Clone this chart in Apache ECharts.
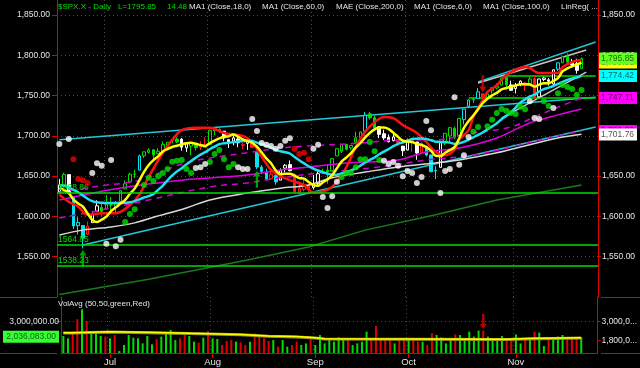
<!DOCTYPE html>
<html>
<head>
<meta charset="utf-8">
<script src="https://cdn.jsdelivr.net/npm/echarts@6/dist/echarts.min.js"></script>
<style>
html,body{margin:0;padding:0;background:#000;overflow:hidden}
#chart{width:640px;height:368px}
</style>
</head>
<body>
<div id="chart"></div>
<script>
// ---------- categories (trading days 2013) ----------
const dates = ['06-17','06-18','06-19','06-20','06-21','06-24','06-25','06-26','06-27','06-28',
'07-01','07-02','07-03','07-05','07-08','07-09','07-10','07-11','07-12','07-15','07-16','07-17','07-18','07-19','07-22','07-23','07-24','07-25','07-26','07-29','07-30','07-31',
'08-01','08-02','08-05','08-06','08-07','08-08','08-09','08-12','08-13','08-14','08-15','08-16','08-19','08-20','08-21','08-22','08-23','08-26','08-27','08-28','08-29','08-30',
'09-03','09-04','09-05','09-06','09-09','09-10','09-11','09-12','09-13','09-16','09-17','09-18','09-19','09-20','09-23','09-24','09-25','09-26','09-27','09-30',
'10-01','10-02','10-03','10-04','10-07','10-08','10-09','10-10','10-11','10-14','10-15','10-16','10-17','10-18','10-21','10-22','10-23','10-24','10-25','10-28','10-29','10-30','10-31',
'11-01','11-04','11-05','11-06','11-07','11-08','11-11','11-12','11-13','11-14','11-15','11-18','11-19','11-20','11-21'];
const padSlots = ['11-22','11-25','11-26'];
const monthNames = {'07':'Jul','08':'Aug','09':'Sep','10':'Oct','11':'Nov'};

// ---------- price series ----------
const opens = [1630.64,1639.77,1651.83,1624.62,1588.62,1588.77,1577.52,1592.27,1606.44,1611.12,
1609.78,1614.29,1611.48,1618.65,1634.20,1642.89,1652.50,1657.41,1675.26,1679.59,1682.70,1677.91,1681.05,1686.15,1694.41,1696.06,1695.95,1685.21,1687.31,1690.32,1687.92,1687.76,
1689.42,1706.10,1708.01,1705.79,1695.30,1693.35,1696.10,1688.37,1690.65,1693.88,1679.61,1661.22,1655.25,1646.81,1650.66,1645.03,1659.92,1664.29,1652.54,1630.25,1633.50,1638.89,
1635.95,1640.72,1653.28,1657.44,1656.85,1675.11,1681.04,1689.21,1685.04,1691.70,1697.73,1705.74,1727.34,1722.44,1711.44,1702.60,1698.02,1694.05,1695.52,1687.26,
1682.41,1691.90,1692.35,1678.79,1687.15,1676.22,1656.99,1660.88,1691.09,1699.86,1709.17,1700.49,1720.17,1736.72,1745.20,1746.48,1752.27,1747.48,1756.01,1759.42,1762.93,1772.27,1763.24,
1758.70,1763.40,1765.67,1765.00,1770.74,1748.37,1769.96,1769.51,1764.37,1782.75,1790.66,1798.82,1790.79,1789.59,1783.52];
const highs = [1646.50,1654.19,1652.45,1624.62,1599.19,1588.77,1593.79,1606.83,1620.07,1615.94,
1626.61,1624.26,1618.97,1632.07,1644.68,1654.18,1657.92,1676.63,1680.19,1684.51,1683.73,1684.75,1693.12,1692.09,1697.61,1698.38,1697.19,1690.94,1691.85,1690.92,1693.19,1698.43,
1707.85,1709.67,1709.24,1705.79,1695.30,1700.18,1699.42,1691.49,1696.81,1695.52,1679.61,1663.60,1659.18,1658.92,1656.99,1659.55,1664.85,1669.51,1652.54,1641.18,1646.41,1640.08,
1651.35,1655.72,1659.17,1664.83,1672.40,1684.09,1689.13,1689.97,1688.73,1704.95,1705.52,1729.44,1729.86,1725.23,1711.44,1707.63,1701.71,1703.85,1695.52,1687.26,
1696.55,1693.87,1692.35,1691.94,1687.15,1676.79,1662.47,1692.56,1703.44,1711.03,1711.57,1721.76,1733.45,1745.31,1747.79,1759.33,1752.27,1753.94,1759.82,1764.99,1772.09,1775.22,1768.53,
1765.67,1768.78,1767.03,1773.74,1774.54,1770.78,1773.44,1771.78,1782.00,1791.53,1798.22,1802.33,1795.51,1795.73,1797.16];
const lows = [1630.34,1639.77,1628.91,1584.32,1577.70,1560.33,1577.09,1592.27,1606.44,1601.06,
1609.78,1606.77,1604.57,1614.71,1634.20,1642.89,1647.66,1657.41,1672.33,1677.89,1671.84,1677.91,1681.05,1684.08,1690.67,1691.13,1681.68,1680.07,1676.03,1681.86,1682.42,1684.94,
1689.42,1700.68,1703.55,1693.29,1684.91,1688.38,1686.02,1683.35,1682.62,1684.83,1658.59,1652.61,1645.84,1646.08,1639.43,1645.03,1654.81,1656.02,1629.05,1627.47,1630.88,1627.47,
1633.41,1637.41,1653.07,1640.62,1656.85,1675.11,1678.70,1681.96,1682.22,1691.70,1697.73,1700.35,1720.20,1708.89,1697.10,1694.90,1691.88,1693.11,1687.11,1674.99,
1682.07,1680.34,1670.36,1677.33,1674.70,1655.03,1646.47,1660.88,1688.52,1692.13,1695.93,1700.49,1714.12,1735.74,1740.67,1746.48,1740.50,1745.50,1752.45,1757.67,1762.93,1757.24,1755.72,
1752.70,1761.56,1755.76,1764.16,1746.20,1747.63,1767.85,1762.29,1760.64,1780.22,1790.66,1788.00,1784.72,1777.23,1783.52];
const closes = [1639.04,1651.81,1628.93,1588.19,1592.43,1573.09,1588.03,1603.26,1613.20,1606.28,
1614.96,1614.08,1615.41,1631.89,1640.46,1652.32,1652.62,1675.02,1680.19,1682.50,1676.26,1680.91,1689.37,1692.09,1695.53,1692.39,1685.94,1690.25,1691.65,1685.33,1685.96,1685.73,
1706.87,1709.67,1707.14,1697.37,1690.91,1697.48,1691.42,1689.47,1694.16,1685.39,1661.32,1655.83,1646.06,1652.35,1642.80,1656.96,1663.50,1656.78,1630.48,1634.96,1638.17,1632.97,
1639.77,1653.08,1655.08,1655.17,1671.71,1683.99,1689.13,1683.42,1687.99,1697.60,1704.76,1725.52,1722.34,1709.91,1701.84,1697.42,1692.77,1698.67,1691.75,1681.55,
1695.00,1693.87,1678.66,1690.50,1676.12,1655.45,1656.40,1692.56,1703.20,1710.14,1698.06,1721.54,1733.15,1744.50,1744.66,1754.67,1746.38,1752.07,1759.77,1762.11,1771.95,1763.31,1756.54,
1761.64,1767.93,1762.97,1770.49,1747.15,1770.61,1771.89,1767.69,1782.00,1790.62,1798.18,1791.53,1787.87,1781.37,1795.85];
// balance-of-power state per bar (A accumulation, D distribution, N neutral, S spike)
const bopState = ('NANSSSDNNA'+'AAAAAAASAAAAAAAANNAADD'+'AAANNNNDNDSSSDSNNNDDDD'+'NNAAAAAAAAASAANNNNDN'+'NDNDSSSNAAAASSASDAAAAAN'+'NNDADNNNNSAANNA').split('');

const volumes = [2080000,1930000,2350000,3140000,3770000,3030000,2290000,2250000,2080000,2040000,
1930000,2140000,1130000,1510000,2140000,1970000,1930000,1610000,2080000,1550000,1870000,2040000,2310000,2460000,1820000,1930000,2140000,2080000,1720000,1660000,1970000,2400000,
1930000,1890000,1510000,1760000,1820000,1720000,1680000,1510000,1720000,2250000,2080000,1930000,1760000,1820000,1400000,1820000,1400000,1510000,1720000,1510000,1610000,1870000,
1510000,2140000,1610000,1870000,1720000,1990000,1820000,1820000,1510000,1610000,1720000,2350000,1870000,2710000,1820000,1870000,1930000,1610000,1870000,1870000,
1870000,1870000,1720000,1720000,1510000,2250000,2140000,1990000,1610000,1870000,2180000,2140000,1930000,2350000,2040000,2420000,2420000,2040000,1870000,1870000,2080000,1870000,1870000,
2180000,1610000,1820000,1890000,2350000,2290000,1440000,1820000,1970000,2040000,2140000,1930000,1930000,1870000,1990000];
const volAvgFast = [[0,2290000],[2,2350000],[10,2310000],[18,2250000],[27,2180000],[38,2080000],[44,2040000],[50,1970000],[54,1910000],[56,1870000],[94,1870000],[95,1930000],[101,1930000],[102,1970000],[111,1970000]];
const volAvgSlow = [[0,2260000],[2,2330000],[10,2290000],[18,2230000],[27,2160000],[38,2060000],[44,2020000],[50,1950000],[54,1890000],[56,1850000],[94,1850000],[95,1910000],[101,1910000],[102,1950000],[111,1950000]];

// ---------- indicator lines ----------
const ma6Values = [1635,1633,1629,1621,1616,1612.2,1603.7,1595.7,1593.0,1596.0,
1599.8,1606.6,1611.2,1616.0,1620.5,1628.2,1634.5,1644.6,1655.4,1663.9,1669.8,1674.6,1680.7,1683.6,1686.1,1687.8,1689.4,1690.9,1691.3,1690.2,
1688.6,1687.5,1691.0,1694.2,1696.8,1698.8,1699.6,1701.6,1699.0,1695.6,1693.5,1691.5,1686.5,1679.6,1672.0,1665.9,1657.3,1652.6,1652.9,1653.1,
1650.5,1647.6,1646.8,1642.8,1638.9,1638.2,1642.3,1645.7,1651.3,1659.8,1668.0,1673.1,1678.6,1685.6,1691.1,1698.1,1703.6,1708.0,1710.3,1710.3,
1708.3,1703.8,1698.7,1694.0,1692.9,1692.3,1689.9,1688.6,1686.0,1681.6,1675.2,1674.9,1679.0,1682.3,1686.0,1697.0,1709.8,1718.4,1725.3,1732.8,
1740.8,1745.9,1750.3,1753.3,1757.8,1759.3,1761.0,1762.6,1763.9,1764.1,1763.8,1761.1,1763.5,1765.2,1765.1,1768.3,1771.7,1780.2,1783.7,1786.3,1788.6,1790.9];
const ma18Values = [1639,1638,1636,1633,1630,1626,1622,1619,1617.5,1617,1616.7,1616.7,1616.7,1616.7,1617,1617.5,1619,
1621.2,1623.5,1625.2,1627.8,1632.9,1638.3,1644.9,1650.9,1655.9,1659.9,1664.6,1668.8,1672.8,1676.7,1679.7,1683.4,1686.6,1689.6,1690.8,1691.4,
1692.3,1693.1,1693.6,1693.9,1693.5,1691.6,1689.5,1687.3,1685.2,1682.5,1680.9,1679.7,1678.1,1673.8,1669.7,1665.9,1662.3,1659.4,1657.0,1655.0,
1653.0,1651.8,1651.7,1653.3,1654.8,1657.1,1659.6,1663.1,1666.9,1670.2,1673.1,1677.1,1680.5,1683.6,1687.2,1690.1,1691.7,1693.9,1696.1,1696.5,
1696.8,1696.1,1694.5,1692.8,1692.5,1692.4,1691.6,1690.2,1690.9,1692.6,1695.2,1698.1,1701.2,1704.2,1708.2,1711.8,1715.6,1720.7,1724.8,1729.2,
1735.1,1741.3,1745.3,1749.0,1751.0,1755.1,1757.9,1759.8,1761.9,1764.4,1766.9,1769.4,1771.3,1772.5,1774.4];
const redLine = [[0,1627],[2,1618],[4,1612],[6,1602],[9,1604],[12,1604],[15,1614],[17,1627],[19,1649],[22,1679],[24,1695],[26,1707],[29,1710],[32,1710],[35,1703.6],[39,1700],[41,1692.4],[43,1674],[45,1657.7],[47,1650],[49,1645],[52,1639],[54,1630],[57,1633],[59,1643],[61,1661],[63,1686],[65,1705],[67,1717],[69,1723.5],[71,1722],[73,1713.5],[76,1703.6],[78,1692.4],[80,1680],[82,1676],[84,1682.5],[85,1695],[87,1707],[88,1723.5],[90,1744.5],[91,1754.5],[93,1763],[95,1775.6],[97,1781.8],[99,1785.5],[100,1784],[102,1778],[104,1778],[106,1778],[107,1785.5],[109,1791.7],[111,1794]];
const ma100Line = [[0,1577],[5,1583],[11,1587],[16,1592],[20,1599],[27,1610.5],[32,1620.5],[40,1629],[47,1635],[53,1639],[58,1648],[65,1655],[72,1661.4],[80,1666.4],[85,1670],[93,1679],[100,1689],[106,1697.4],[111,1702]];
const maeUpper = [[0,1630],[9,1638],[17,1645],[26,1665],[32,1672.6],[40,1679],[47,1685],[53,1687.5],[64,1691],[72,1695],[80,1695],[88,1703.6],[96,1711],[101,1723.5],[107,1738],[111,1747]];
const ma60Line = [[0,1620.5],[13,1635.4],[26,1645],[32,1647.8],[40,1651.5],[47,1657.7],[53,1661.4],[61,1666.4],[72,1670],[78,1680],[85,1685],[93,1697.4],[100,1716],[106,1726],[111,1733.4]];
const maeLower = [[0,1598],[9,1608],[19,1620.5],[32,1636.6],[40,1641.6],[47,1648],[57,1655],[68,1661.4],[78,1670],[88,1676],[96,1686],[105,1698.6],[111,1706]];
const ma200Line = [[0,1503],[19,1522],[40,1546],[53,1562],[65,1583],[80,1602],[93,1620.5],[111,1639]];
const longChannelUpper = [[0,1695.2],[114,1748]];
const longChannelLower = [[5,1564.6],[114,1711]];
const shortChannelCyan = [[89,1767],[114,1816.5]];
const linRegUpper = [[89,1765.6],[112,1806.6]];
const linRegLower = [[94,1722],[112,1779]];
const resistanceA = [[95,1774.3],[114,1774.3]];
const resistanceB = [[87,1747],[114,1747]];
const supportLevels = [1628.86, 1564.85, 1538.23];
const dotsGreen = [[14,1593],[15,1603],[16,1609],[18,1639],[19,1648],[20,1644],[21,1650],[22,1654],[23,1659],[24,1668],[25,1669],[26,1670],[27,1659],[28,1654],[32,1667.6],[33,1677.5],[34,1682.5],[35,1671],[36,1661],[37,1665],[60,1649],[61,1654],[62,1654],[63,1661],[64,1671],[65,1671],[66,1692.4],[67,1681],[68,1670],[88,1705],[89,1711],[91,1712],[92,1720],[93,1728.4],[94,1733.4],[95,1731],[96,1728.4],[97,1727],[98,1736],[99,1733],[103,1743],[104,1737],[106,1753],[107,1763],[108,1760.7],[109,1758],[110,1751],[111,1757]];
const dotsWhite = [[0,1690],[2,1696],[7,1654],[8,1666],[9,1663],[10,1566],[11,1670],[12,1563],[13,1571],[29,1660],[30,1661],[31,1665],[38,1661],[39,1659],[40,1659],[41,1721],[42,1706],[43,1691],[44,1689],[45,1687.5],[46,1684],[47,1687.5],[48,1694],[49,1697],[54,1684],[55,1689],[56,1624],[57,1610.5],[58,1625],[59,1643],[69,1669],[70,1665],[71,1667.6],[72,1663],[73,1650],[74,1656.5],[75,1654],[76,1641.6],[77,1649],[78,1718.5],[79,1707],[81,1629],[82,1656.5],[83,1659],[84,1748],[85,1664],[86,1676],[87,1698.6],[100,1743],[101,1722],[102,1721],[105,1734.6]];
const dotsRed = [[3,1671],[4,1646.5],[5,1645],[6,1641.6],[50,1684],[51,1677.5],[52,1679],[53,1671]];
const buySignals = [5, 42];
const sellSignals = [90];
const priceTicks = [1550,1600,1650,1700,1750,1800,1850];
const studyTags = [1701.76, 1747.11, 1774.42, 1790.91];
const lastCloseTag = 1795.85;
const hiddenTag = 1706;
const volTicks = [1800000, 3000000];
const volAvgTag = 2036083;
const legendTexts = ['$SPX.X - Daily','MA1 (Close,18,0)','MA1 (Close,60,0)','MAE (Close,200,0)','MA1 (Close,6,0)','MA1 (Close,100,0)','LinReg( ...'];

// ---------- build ----------
const FONT = 'Liberation Sans, Arial, sans-serif';
const RED = '#e00000', GRN = '#00dd00', TXT = '#e6e6e6';
const cats = dates.concat(padSlots);
const isMonthStart = i => i > 0 && i < dates.length && dates[i].slice(0,2) !== dates[i-1].slice(0,2);
const fmt2 = v => Number(v).toLocaleString('en-US',{minimumFractionDigits:2, maximumFractionDigits:2});
const toneColor = {A:'#00dd00', D:'#ff1a1a', N:'#ffffff', S:'#00e4f0'};

const candleData = dates.map((d,i) => {
  const c = toneColor[bopState[i]];
  const hollow = closes[i] >= opens[i];
  const fill = hollow ? '#000000' : c;
  return {value:[opens[i], closes[i], lows[i], highs[i]],
          itemStyle:{color:fill, color0:fill, borderColor:c, borderColor0:c, borderWidth:1}};
});
const volData = volumes.map((v,i) => ({value:v, itemStyle:{color: closes[i] >= (i ? closes[i-1] : opens[i]) ? '#00dd00' : '#e00000'}}));
const seq = arr => arr.map((v,i) => [i, v]);

function line(data, color, width, extra) {
  return Object.assign({type:'line', xAxisIndex:0, yAxisIndex:0, data, showSymbol:false, symbol:'none',
    silent:true, smooth:0.35, z:4, lineStyle:{color, width}}, extra || {});
}
function straight(data, color, width) {
  return line(data, color, width, {smooth:false, z:3});
}

const tagKeys = ['w','m','c','y'];
const near = (a,b) => Math.abs(a-b) < 0.005;
const boxStyle = (bg, fg) => ({backgroundColor:bg, color:fg, fontSize:8.5, width:34, height:12, padding:[0,2], lineHeight:12});
const PRICE_MIN = 1500, PRICE_MAX = 1868.6;
function tagAxis(values, z, formatter, rich) {
  return {type:'value', gridIndex:0, position:'right', min:PRICE_MIN, max:PRICE_MAX, z,
    axisLine:{show:false}, axisTick:{show:false}, splitLine:{show:false},
    axisLabel:{customValues:values, hideOverlap:false, margin:1, fontSize:8.5, fontFamily:FONT, formatter, rich}};
}

const upArrow = 'path://M4,0 L8,6 L5.3,6 L5.3,18 L2.7,18 L2.7,6 L0,6 Z';
const LF = '8px ' + FONT;
function legendText(x, y, text, fill) {
  return {type:'text', silent:true, z:100, style:{x, y, text, fill, font:LF, verticalAlign:'middle', textVerticalAlign:'middle'}};
}

const option = {
  backgroundColor:'#000',
  animation:false,
  textStyle:{fontFamily:FONT},
  grid:[
    {left:57, right:39, top:0, height:297},
    {left:57, right:39, top:297, height:56}
  ],
  xAxis:[
    {type:'category', gridIndex:0, data:cats, boundaryGap:true,
     axisLine:{show:false}, axisTick:{show:false}, axisLabel:{show:false},
     splitLine:{show:true, interval:(i)=>isMonthStart(i), lineStyle:{color:'#4a4a4a', type:[1,3], width:1}}},
    {type:'category', gridIndex:1, data:cats, boundaryGap:true,
     axisLine:{show:true, lineStyle:{color:RED, width:1}},
     axisTick:{show:true, alignWithLabel:true, interval:(i)=>isMonthStart(i), length:5, lineStyle:{color:RED}},
     axisLabel:{show:true, interval:(i)=>isMonthStart(i), formatter:(v)=>monthNames[v.slice(0,2)]||'', color:TXT, fontSize:9.5, margin:4, fontFamily:FONT},
     splitLine:{show:true, interval:(i)=>isMonthStart(i), lineStyle:{color:'#4a4a4a', type:[1,3], width:1}}}
  ],
  yAxis:[
    {type:'value', gridIndex:0, position:'left', min:PRICE_MIN, max:PRICE_MAX, interval:50,
     axisLine:{show:true, lineStyle:{color:RED, width:1}},
     axisTick:{show:true, length:5, customValues:priceTicks, lineStyle:{color:RED}},
     axisLabel:{customValues:priceTicks, hideOverlap:false, color:TXT, fontSize:8.5, margin:7, formatter:fmt2, fontFamily:FONT},
     splitLine:{show:true, lineStyle:{color:'#4a4a4a', type:[1,3], width:1}}},
    {type:'value', gridIndex:0, position:'right', min:PRICE_MIN, max:PRICE_MAX, interval:50,
     axisLine:{show:true, lineStyle:{color:RED, width:1}},
     axisTick:{show:true, length:3, customValues:priceTicks, lineStyle:{color:RED}},
     axisLabel:{customValues:priceTicks, hideOverlap:false, color:TXT, fontSize:8.5, margin:4, fontFamily:FONT, formatter:fmt2},
     splitLine:{show:false}},
    tagAxis([hiddenTag], 5, (v)=>'{hm|' + fmt2(v) + '}', {hm:boxStyle('#ff00ff','#660066')}),
    tagAxis(studyTags, 6, (v)=>{ const k = studyTags.findIndex(t=>near(t,v)); return '{' + tagKeys[k < 0 ? 0 : k] + '|' + fmt2(v) + '}'; },
      {w:boxStyle('#ffffff','#555555'), m:boxStyle('#ff00ff','#660066'), c:boxStyle('#00ffff','#006a6a'), y:boxStyle('#ffff00','#6a6a00')}),
    tagAxis([lastCloseTag], 8, (v)=>'{g|' + fmt2(v) + '}', {g:boxStyle('#66ff22','#1d6a00')}),
    {type:'value', gridIndex:1, position:'left', min:1000000, max:4550000,
     axisLine:{show:true, lineStyle:{color:RED, width:1}},
     axisTick:{show:true, length:5, customValues:[3000000], lineStyle:{color:RED}},
     axisLabel:{customValues:[volAvgTag, 3000000], hideOverlap:false, margin:2, fontSize:8.5, color:TXT, fontFamily:FONT,
       formatter:(v)=> near(v,volAvgTag) ? '{g|' + fmt2(v) + '}' : fmt2(v),
       rich:{g:{backgroundColor:'#33ff33', color:'#145a14', fontSize:8.5, width:53, height:12, align:'right', padding:[0,3,0,0], lineHeight:12}}},
     splitLine:{show:true, lineStyle:{color:'#4a4a4a', type:[1,3], width:1}}},
    {type:'value', gridIndex:1, position:'right', min:1000000, max:4550000,
     axisLine:{show:true, lineStyle:{color:RED, width:1}},
     axisTick:{show:true, length:3, customValues:volTicks, lineStyle:{color:RED}},
     axisLabel:{customValues:volTicks, hideOverlap:false, margin:4, fontSize:8.5, color:TXT, fontFamily:FONT,
       formatter:(v)=> fmt2(v).slice(0,7) + '...'},
     splitLine:{show:false}}
  ],
  graphic:[
    {type:'line', silent:true, shape:{x1:0,y1:297.5,x2:57,y2:297.5}, style:{stroke:RED, lineWidth:1}},
    {type:'line', silent:true, shape:{x1:601,y1:297.5,x2:640,y2:297.5}, style:{stroke:RED, lineWidth:1}},
    {type:'line', silent:true, shape:{x1:0,y1:353.5,x2:57,y2:353.5}, style:{stroke:RED, lineWidth:1}},
    {type:'line', silent:true, shape:{x1:601,y1:353.5,x2:640,y2:353.5}, style:{stroke:RED, lineWidth:1}},
    legendText(58, 7, legendTexts[0], GRN),
    legendText(118, 7, 'L=' + closes[closes.length-1].toFixed(2), GRN),
    legendText(167, 7, (closes[closes.length-1]-closes[closes.length-2]).toFixed(2), GRN),
    legendText(189, 7, legendTexts[1], TXT),
    legendText(262, 7, legendTexts[2], TXT),
    legendText(336, 7, legendTexts[3], TXT),
    legendText(414, 7, legendTexts[4], TXT),
    legendText(483, 7, legendTexts[5], TXT),
    legendText(561, 7, legendTexts[6], TXT),
    legendText(58, 304, 'VolAvg (50,50,green,Red)', TXT)
  ],
  series:[
    straight(ma200Line, '#1a7a1a', 1.5),
    straight(longChannelUpper, '#22c8d8', 1.5),
    straight(longChannelLower, '#22c8d8', 1.5),
    straight(shortChannelCyan, '#22c8d8', 1.5),
    straight(linRegUpper, '#c8c8c8', 1.5),
    straight(linRegLower, '#c8c8c8', 1.5),
    straight(resistanceA, GRN, 1.5),
    straight(resistanceB, GRN, 1.5),
    {type:'candlestick', xAxisIndex:0, yAxisIndex:0, data:candleData, barWidth:3, z:3, silent:true,
     markLine:{silent:true, symbol:['none','none'], animation:false,
       lineStyle:{color:GRN, width:1.5, type:'solid'},
       label:{show:true, position:'insideStartTop', distance:[1,1], color:GRN, fontSize:8.5, fontFamily:FONT, formatter:(p)=>Number(p.value).toFixed(2)},
       data: supportLevels.map(v=>({yAxis:v}))}},
    line(maeLower, '#d000d0', 1.5, {lineStyle:{color:'#d000d0', width:1.5, type:[6,5]}}),
    line(maeUpper, '#d000d0', 1.5, {lineStyle:{color:'#d000d0', width:1.5, type:[6,5]}}),
    line(ma60Line, '#e000e0', 1.5),
    line(ma100Line, '#d8d8d8', 1.5),
    line(redLine, '#ff1010', 2.5),
    line(seq(ma18Values), '#20e0f0', 2.5),
    line(seq(ma6Values), '#ffff00', 2.5),
    {type:'scatter', xAxisIndex:0, yAxisIndex:0, data:dotsGreen, symbol:'circle', symbolSize:6, z:6, silent:true, itemStyle:{color:'#00dd00'}},
    {type:'scatter', xAxisIndex:0, yAxisIndex:0, data:dotsWhite, symbol:'circle', symbolSize:6, z:6, silent:true, itemStyle:{color:'#ffffff'}},
    {type:'scatter', xAxisIndex:0, yAxisIndex:0, data:dotsRed, symbol:'circle', symbolSize:6, z:6, silent:true, itemStyle:{color:'#ee0000'}},
    {type:'scatter', xAxisIndex:0, yAxisIndex:0, data:buySignals.map(i=>[i, lows[i]]), symbol:upArrow, symbolSize:[7,17], symbolOffset:[0,10], z:7, silent:true, itemStyle:{color:'#00c800'}},
    {type:'scatter', xAxisIndex:0, yAxisIndex:0, data:sellSignals.map(i=>[i, highs[i]]), symbol:upArrow, symbolRotate:180, symbolSize:[7,17], symbolOffset:[0,-10], z:7, silent:true, itemStyle:{color:'#ee0000'}},
    {type:'bar', xAxisIndex:1, yAxisIndex:5, data:volData, barWidth:2, z:3, silent:true},
    {type:'line', xAxisIndex:1, yAxisIndex:5, data:volAvgSlow, step:'end', showSymbol:false, symbol:'none', silent:true, z:4, lineStyle:{color:'#9a9a10', width:3}},
    {type:'line', xAxisIndex:1, yAxisIndex:5, data:volAvgFast, step:'end', showSymbol:false, symbol:'none', silent:true, z:5, lineStyle:{color:'#ffff00', width:1.5}},
    {type:'scatter', xAxisIndex:1, yAxisIndex:5, data:sellSignals.map(i=>[i, volumes[i]]), symbol:upArrow, symbolRotate:180, symbolSize:[7,15], symbolOffset:[0,-9], z:7, silent:true, itemStyle:{color:'#ee0000'}}
  ]
};
const chart = echarts.init(document.getElementById('chart'), null, {renderer:'canvas'});
chart.setOption(option);
</script>
</body>
</html>
